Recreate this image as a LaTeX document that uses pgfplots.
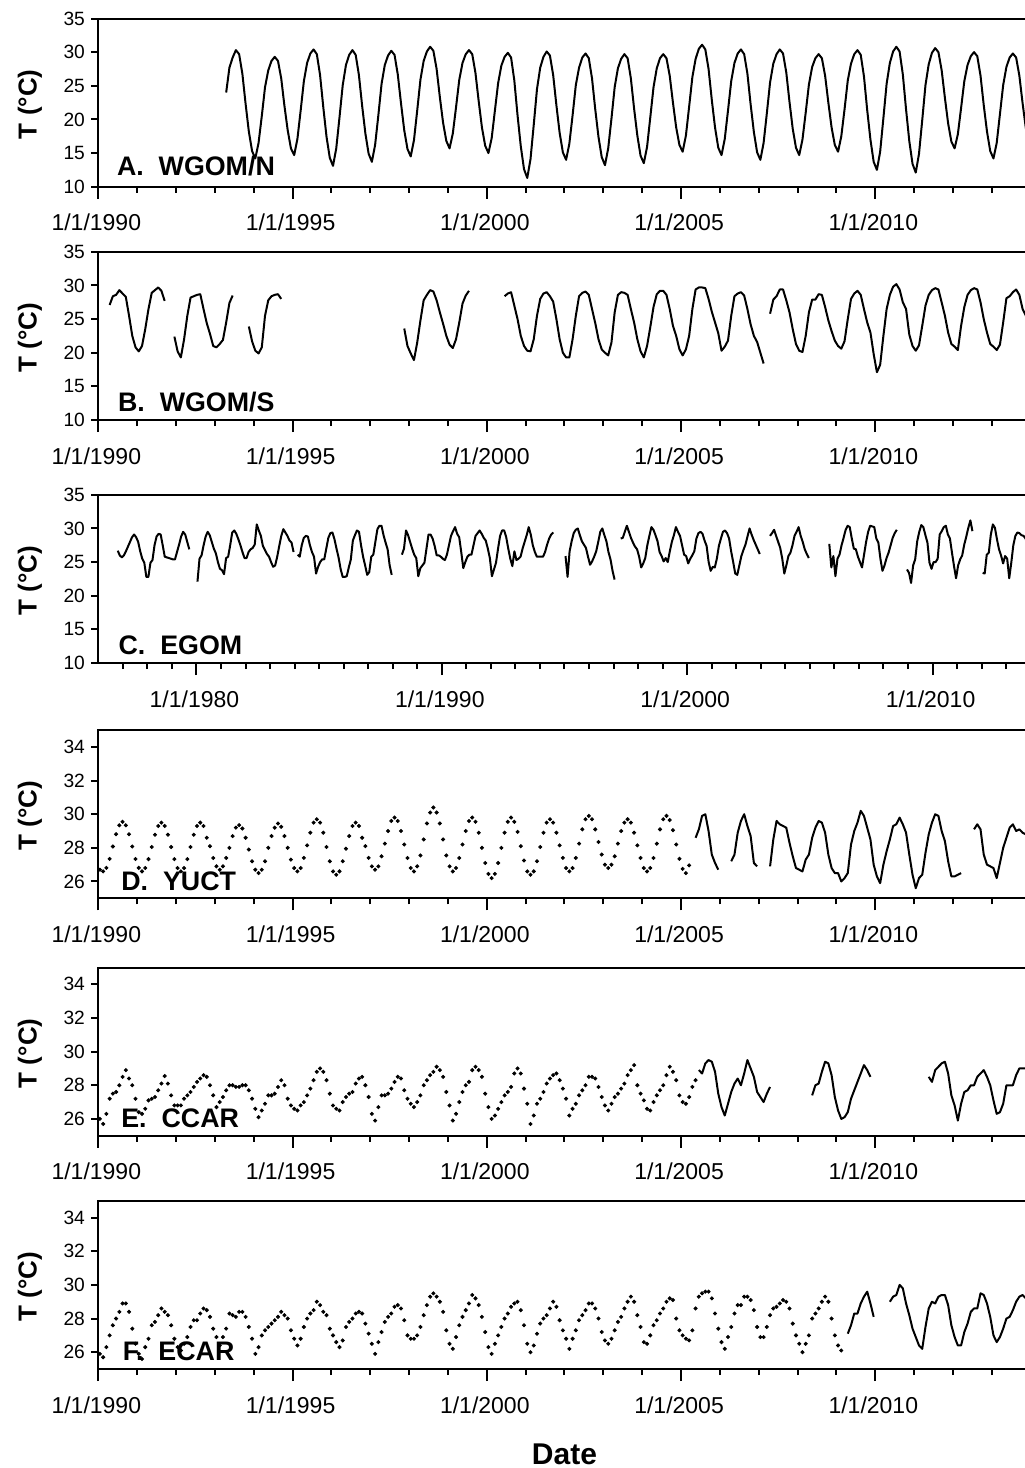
\documentclass[border=0pt]{standalone}
\usepackage{fontspec}
\setmainfont{Liberation Sans}
\usepackage{pgfplots}
\pgfplotsset{compat=1.18}
\tikzset{lab/.style={anchor=base west, inner sep=0pt, font=\bfseries\fontsize{13.4}{15}\selectfont}}
\pgfplotsset{
 panel/.style={
  scale only axis, width=466.2pt, height=84.1pt, anchor=south west,
  axis line style={line width=1pt},
  tick style={black, line width=1pt},
  tick align=outside,
  xtick pos=bottom, ytick pos=left,
  major tick length=6pt, minor tick length=3pt,
  ytick style={/pgfplots/major tick length=3.5pt},
  xticklabel style={font=\fontsize{11.5}{13}\selectfont, anchor=base, yshift=-16pt, xshift=-1pt},
  yticklabel style={font=\fontsize{9.6}{11}\selectfont, anchor=east, inner sep=0pt, xshift=-0.5pt},
  /pgf/number format/assume math mode=true,
  ylabel={T (°C)},
  ylabel style={font=\bfseries\fontsize{13}{15}\selectfont, at={(axis description cs:-0.0733,0.49)}, anchor=center},
  xmax=2014,
  unbounded coords=jump,
 },
 yr/.style={xmin=1990, xtick={1990,1995,2000,2005,2010},
   xticklabels={1/1/1990,1/1/1995,1/1/2000,1/1/2005,1/1/2010},
   minor xtick={1991,1992,...,2013}},
 big/.style={ymin=10, ymax=35, ytick={10,15,...,35}},
 small/.style={ymin=25, ymax=35, ytick={26,28,...,34}},
 ser/.style={black, line width=1pt, line join=round, no marks},
 dots/.style={black, only marks, mark=*, mark size=0.8pt},
}
\begin{document}
\begin{tikzpicture}
%% A
\begin{axis}[panel, yr, big, at={(49.15pt,-93.35pt)}]
\addplot[ser] table[row sep=\\, header=false, y index=0, x expr={1993+(\lineno+0.5)/12}] {
nan\\ nan\\ nan\\ 24.0\\ 27.7\\ 29.2\\ 30.3\\ 29.7\\ 26.8\\ 22.3\\ 18.2\\ 15.3\\
14.2\\ 16.5\\ 20.5\\ 24.8\\ 27.3\\ 28.7\\ 29.3\\ 28.7\\ 26.1\\ 22.0\\ 18.4\\ 15.7\\
14.7\\ 17.1\\ 21.3\\ 25.7\\ 28.4\\ 29.8\\ 30.4\\ 29.7\\ 26.6\\ 21.8\\ 17.4\\ 14.3\\
13.1\\ 15.7\\ 20.3\\ 25.1\\ 28.1\\ 29.6\\ 30.3\\ 29.6\\ 26.6\\ 22.0\\ 17.9\\ 14.9\\
13.7\\ 16.2\\ 20.6\\ 25.3\\ 28.1\\ 29.5\\ 30.2\\ 29.6\\ 26.7\\ 22.4\\ 18.4\\ 15.6\\
14.5\\ 16.9\\ 21.3\\ 25.9\\ 28.7\\ 30.1\\ 30.8\\ 30.2\\ 27.5\\ 23.3\\ 19.5\\ 16.8\\
15.7\\ 17.9\\ 21.8\\ 25.9\\ 28.4\\ 29.7\\ 30.3\\ 29.7\\ 26.9\\ 22.7\\ 18.8\\ 16.1\\
15.0\\ 17.2\\ 21.3\\ 25.4\\ 28.0\\ 29.3\\ 29.9\\ 29.2\\ 25.8\\ 20.6\\ 16.0\\ 12.6\\
11.3\\ 14.1\\ 19.2\\ 24.5\\ 27.7\\ 29.3\\ 30.1\\ 29.5\\ 26.6\\ 22.1\\ 18.0\\ 15.1\\
14.0\\ 16.4\\ 20.6\\ 25.1\\ 27.7\\ 29.2\\ 29.8\\ 29.1\\ 26.1\\ 21.5\\ 17.4\\ 14.4\\
13.2\\ 15.7\\ 20.1\\ 24.8\\ 27.6\\ 29.0\\ 29.7\\ 29.1\\ 26.1\\ 21.6\\ 17.6\\ 14.6\\
13.5\\ 15.9\\ 20.3\\ 24.8\\ 27.6\\ 29.1\\ 29.7\\ 29.1\\ 26.5\\ 22.5\\ 18.8\\ 16.2\\
15.2\\ 17.6\\ 21.9\\ 26.3\\ 29.0\\ 30.5\\ 31.1\\ 30.4\\ 27.5\\ 22.9\\ 18.8\\ 15.8\\
14.7\\ 17.1\\ 21.3\\ 25.7\\ 28.4\\ 29.8\\ 30.4\\ 29.7\\ 26.8\\ 22.2\\ 18.1\\ 15.1\\
14.0\\ 16.5\\ 20.9\\ 25.5\\ 28.3\\ 29.7\\ 30.4\\ 29.8\\ 27.0\\ 22.6\\ 18.6\\ 15.8\\
14.7\\ 17.0\\ 21.0\\ 25.2\\ 27.8\\ 29.1\\ 29.7\\ 29.1\\ 26.5\\ 22.5\\ 18.8\\ 16.2\\
15.2\\ 17.5\\ 21.5\\ 25.8\\ 28.3\\ 29.7\\ 30.3\\ 29.6\\ 26.4\\ 21.4\\ 17.0\\ 13.7\\
12.5\\ 15.2\\ 20.2\\ 25.3\\ 28.4\\ 30.1\\ 30.8\\ 30.1\\ 26.7\\ 21.5\\ 16.8\\ 13.4\\
12.1\\ 14.9\\ 19.9\\ 25.1\\ 28.2\\ 29.9\\ 30.6\\ 30.0\\ 27.3\\ 23.2\\ 19.4\\ 16.7\\
15.7\\ 17.8\\ 21.7\\ 25.7\\ 28.1\\ 29.4\\ 30.0\\ 29.4\\ 26.5\\ 22.1\\ 18.2\\ 15.3\\
14.2\\ 16.5\\ 20.8\\ 25.1\\ 27.8\\ 29.2\\ 29.8\\ 29.2\\ 26.5\\ 22.4\\ 18.7\\ 16.0\\
};
\node[lab] at (rel axis cs:0.0197,0.0695) {A.~~WGOM/N};
\end{axis}
%% B
\begin{axis}[panel, yr, big, at={(49.15pt,-210pt)}]
\addplot[ser] table[row sep=\\, header=false, y index=0, x expr={1990+(\lineno+0.5)/12}] {
nan\\ nan\\ nan\\ 27.1\\ 28.4\\ 28.6\\ 29.3\\ 28.8\\ 28.3\\ 25.5\\ 22.5\\ 20.8\\
20.2\\ 21.0\\ 23.5\\ 26.5\\ 28.9\\ 29.3\\ 29.7\\ 29.2\\ 27.7\\ nan\\ nan\\ 22.4\\
20.2\\ 19.3\\ 22.0\\ 25.5\\ 28.2\\ 28.4\\ 28.6\\ 28.7\\ 26.5\\ 24.4\\ 22.8\\ 21.0\\
20.8\\ 21.3\\ 21.9\\ 24.5\\ 27.4\\ 28.5\\ nan\\ nan\\ nan\\ nan\\ 23.9\\ 21.7\\
20.3\\ 19.9\\ 20.8\\ 25.5\\ 27.8\\ 28.4\\ 28.6\\ 28.7\\ 28.0\\ nan\\ nan\\ nan\\
nan\\ nan\\ nan\\ nan\\ nan\\ nan\\ nan\\ nan\\ nan\\ nan\\ nan\\ nan\\
nan\\ nan\\ nan\\ nan\\ nan\\ nan\\ nan\\ nan\\ nan\\ nan\\ nan\\ nan\\
nan\\ nan\\ nan\\ nan\\ nan\\ nan\\ nan\\ nan\\ nan\\ nan\\ 23.6\\ 21.0\\
19.9\\ 18.9\\ 21.5\\ 24.8\\ 27.8\\ 28.6\\ 29.3\\ 29.1\\ 27.8\\ 26.0\\ 24.3\\ 22.5\\
21.2\\ 20.7\\ 22.0\\ 24.5\\ 27.3\\ 28.5\\ 29.2\\ nan\\ nan\\ nan\\ nan\\ nan\\
nan\\ nan\\ nan\\ nan\\ nan\\ 28.4\\ 28.8\\ 29.0\\ 27.0\\ 25.0\\ 22.5\\ 21.0\\
20.3\\ 20.2\\ 22.0\\ 25.5\\ 28.0\\ 28.8\\ 29.0\\ 28.4\\ 27.6\\ 25.0\\ 22.0\\ 20.0\\
19.3\\ 19.3\\ 22.0\\ 25.5\\ 28.4\\ 28.9\\ 29.1\\ 28.6\\ 26.5\\ 24.4\\ 22.0\\ 20.5\\
20.0\\ 19.6\\ 21.5\\ 26.0\\ 28.6\\ 29.0\\ 28.9\\ 28.6\\ 26.5\\ 24.5\\ 22.0\\ 20.2\\
19.3\\ 21.0\\ 23.8\\ 26.8\\ 28.7\\ 29.2\\ 29.2\\ 28.6\\ 26.5\\ 24.0\\ 22.5\\ 20.5\\
19.6\\ 20.5\\ 22.5\\ 26.5\\ 29.4\\ 29.7\\ 29.7\\ 29.6\\ 28.0\\ 26.1\\ 24.5\\ 22.9\\
20.3\\ 20.9\\ 21.8\\ 25.5\\ 28.4\\ 28.8\\ 29.0\\ 28.5\\ 26.5\\ 24.2\\ 22.5\\ 21.6\\
20.0\\ 18.4\\ nan\\ 25.8\\ 27.9\\ 28.4\\ 29.4\\ 29.4\\ 27.8\\ 26.0\\ 23.5\\ 21.3\\
20.3\\ 20.1\\ 22.5\\ 26.0\\ 27.9\\ 27.9\\ 28.7\\ 28.6\\ 26.8\\ 24.8\\ 23.2\\ 21.8\\
21.0\\ 20.6\\ 21.7\\ 25.0\\ 28.0\\ 28.8\\ 29.2\\ 28.6\\ 26.5\\ 24.5\\ 23.0\\ 19.8\\
17.1\\ 18.2\\ 22.5\\ 26.5\\ 28.6\\ 29.8\\ 30.2\\ 29.4\\ 27.5\\ 26.5\\ 22.7\\ 21.0\\
20.3\\ 21.1\\ 24.0\\ 27.0\\ 28.6\\ 29.3\\ 29.6\\ 29.4\\ 27.5\\ 25.5\\ 23.0\\ 21.3\\
20.9\\ 20.4\\ 24.0\\ 26.8\\ 28.6\\ 29.3\\ 29.6\\ 29.4\\ 27.5\\ 25.0\\ 23.0\\ 21.3\\
20.9\\ 20.4\\ 21.2\\ 24.5\\ 28.1\\ 28.4\\ 29.0\\ 29.4\\ 28.6\\ 26.5\\ 25.5\\ 24.0\\
};
\node[lab] at (rel axis cs:0.0208,0.049) {B.~~WGOM/S};
\end{axis}
%% C
\begin{axis}[panel, big, at={(49.15pt,-331.5pt)}, xmin=1976,
  xtick={1980,1990,2000,2010}, xticklabels={1/1/1980,1/1/1990,1/1/2000,1/1/2010},
  minor xtick={1977,1978,...,2013}]
\addplot[ser] table[row sep=\\, header=false, y index=0, x expr={1976+(\lineno+0.5)/12}] {
nan\\ nan\\ nan\\ nan\\ nan\\ nan\\ nan\\ nan\\ nan\\ 26.7\\ 26.0\\ 25.7\\
26.0\\ 26.6\\ 27.3\\ 28.0\\ 28.7\\ 29.1\\ 28.7\\ 28.0\\ 26.6\\ 25.5\\ 24.9\\ 22.8\\
22.8\\ 24.9\\ 25.3\\ 27.5\\ 28.8\\ 29.2\\ 29.1\\ 27.5\\ 25.8\\ 25.7\\ 25.6\\ 25.5\\
25.4\\ 25.4\\ 26.5\\ 27.6\\ 28.8\\ 29.5\\ 29.1\\ 28.0\\ 26.9\\ nan\\ nan\\ nan\\
22.1\\ 25.5\\ 26.0\\ 27.5\\ 28.8\\ 29.5\\ 29.0\\ 28.0\\ 27.0\\ 26.3\\ 25.0\\ 24.0\\
23.8\\ 23.2\\ 25.6\\ 25.8\\ 27.5\\ 29.4\\ 29.7\\ 29.2\\ 28.4\\ 27.5\\ 26.5\\ 25.6\\
25.6\\ 26.5\\ 26.9\\ 27.1\\ 27.6\\ 30.6\\ 29.7\\ 28.9\\ 27.4\\ 26.8\\ 26.2\\ 25.8\\
25.0\\ 24.3\\ 24.5\\ 25.8\\ 27.4\\ 28.9\\ 29.9\\ 29.4\\ 28.9\\ 28.2\\ 27.9\\ 26.5\\
nan\\ 26.1\\ 25.8\\ 27.5\\ 28.6\\ 28.9\\ 28.8\\ 27.5\\ 26.5\\ 25.8\\ 23.3\\ 24.3\\
25.0\\ 25.4\\ 25.4\\ 27.0\\ 28.6\\ 29.3\\ 29.4\\ 28.4\\ 27.0\\ 25.7\\ 24.0\\ 22.8\\
22.8\\ 22.9\\ 24.2\\ 25.4\\ 28.2\\ 29.0\\ 29.7\\ 29.5\\ 27.5\\ 25.8\\ 24.5\\ 23.1\\
23.5\\ 25.8\\ 26.1\\ 28.0\\ 29.9\\ 30.4\\ 30.4\\ 29.0\\ 27.9\\ 26.9\\ 24.5\\ 23.1\\
nan\\ nan\\ nan\\ nan\\ 26.1\\ 27.0\\ 29.7\\ 29.0\\ 28.0\\ 27.0\\ 26.1\\ 25.6\\
22.9\\ 24.1\\ 24.5\\ 24.9\\ 27.0\\ 29.1\\ 29.1\\ 28.5\\ 27.4\\ 26.0\\ 26.0\\ 25.8\\
25.5\\ 25.3\\ 26.1\\ 27.5\\ 28.9\\ 29.6\\ 30.2\\ 29.2\\ 28.7\\ 26.5\\ 24.1\\ 25.0\\
25.8\\ 26.1\\ 26.1\\ 27.5\\ 28.9\\ 29.3\\ 29.7\\ 29.2\\ 28.6\\ 28.2\\ 27.0\\ 25.6\\
22.9\\ 23.9\\ 24.9\\ 27.0\\ 28.9\\ 29.7\\ 29.7\\ 28.7\\ 27.0\\ 25.5\\ 24.4\\ 26.6\\
25.3\\ 25.5\\ 25.8\\ 27.0\\ 28.0\\ 29.0\\ 30.2\\ 29.1\\ 27.5\\ 26.5\\ 25.8\\ 25.8\\
25.8\\ 25.8\\ 26.5\\ 27.6\\ 28.5\\ 29.1\\ 29.4\\ nan\\ nan\\ nan\\ nan\\ nan\\
25.9\\ 22.8\\ 26.6\\ 28.1\\ 29.3\\ 29.8\\ 30.0\\ 29.0\\ 28.1\\ 27.6\\ 27.1\\ 25.8\\
24.6\\ 25.1\\ 25.8\\ 26.6\\ 28.0\\ 29.5\\ 30.0\\ 29.0\\ 28.1\\ 26.5\\ 25.4\\ 23.7\\
22.4\\ nan\\ nan\\ 28.5\\ 28.6\\ 29.5\\ 30.4\\ 29.5\\ 28.6\\ 27.9\\ 27.3\\ 26.9\\
25.8\\ 24.2\\ 24.8\\ 25.6\\ 27.5\\ 28.9\\ 30.2\\ 29.8\\ 29.0\\ 28.1\\ 26.5\\ 25.9\\
25.1\\ 25.6\\ 25.0\\ 26.6\\ 28.0\\ 29.0\\ 30.2\\ 29.5\\ 28.9\\ 27.5\\ 26.1\\ 25.9\\
24.8\\ 25.5\\ 26.0\\ 26.6\\ 28.5\\ 29.3\\ 29.5\\ 29.2\\ 28.2\\ 27.4\\ 25.0\\ 23.7\\
24.3\\ 24.2\\ 25.5\\ 27.4\\ 28.5\\ 29.5\\ 29.7\\ 29.3\\ 28.5\\ 26.6\\ 25.0\\ 23.3\\
23.1\\ 24.5\\ 25.9\\ 26.8\\ 27.6\\ 28.8\\ 30.0\\ 29.1\\ 28.3\\ 27.6\\ 26.9\\ 26.2\\
nan\\ nan\\ nan\\ nan\\ 28.9\\ 29.3\\ 29.8\\ 28.9\\ 28.0\\ 27.1\\ 25.5\\ 23.3\\
24.5\\ 25.9\\ 26.4\\ 27.5\\ 28.9\\ 29.5\\ 30.2\\ 28.9\\ 28.0\\ 26.9\\ 26.2\\ 25.6\\
nan\\ nan\\ nan\\ nan\\ nan\\ nan\\ nan\\ nan\\ nan\\ 27.7\\ 24.2\\ 25.9\\
22.9\\ 25.5\\ 26.1\\ 27.5\\ 28.6\\ 29.8\\ 30.4\\ 30.2\\ 28.5\\ 27.0\\ 26.9\\ 25.8\\
25.0\\ 24.2\\ 26.1\\ 28.0\\ 29.5\\ 30.4\\ 30.3\\ 30.2\\ 28.5\\ 27.9\\ 25.5\\ 23.7\\
24.5\\ 25.6\\ 26.4\\ 27.5\\ 28.6\\ 29.3\\ 29.8\\ nan\\ nan\\ nan\\ nan\\ 23.9\\
23.4\\ 21.9\\ 24.5\\ 25.4\\ 28.1\\ 29.5\\ 30.5\\ 30.2\\ 29.0\\ 27.9\\ 24.9\\ 24.0\\
25.0\\ 25.0\\ 25.5\\ 29.1\\ 29.6\\ 30.2\\ 30.4\\ 29.1\\ 28.5\\ 26.4\\ 24.4\\ 22.6\\
24.5\\ 25.4\\ 26.0\\ 27.6\\ 28.8\\ 30.1\\ 31.2\\ 29.6\\ nan\\ nan\\ nan\\ nan\\
23.4\\ 23.3\\ 26.1\\ 26.4\\ 29.1\\ 30.6\\ 30.1\\ 28.4\\ 26.9\\ 26.0\\ 24.8\\ 25.9\\
25.5\\ 22.6\\ 24.9\\ 27.5\\ 28.9\\ 29.4\\ 29.3\\ 29.0\\ 28.9\\ 28.5\\ 27.5\\ 27.0\\
};
\node[lab] at (rel axis cs:0.0214,0.049) {C.~~EGOM};
\end{axis}
%% D
\begin{axis}[panel, yr, small, at={(49.15pt,-449.15pt)}]
\addplot[dots] table[row sep=\\, header=false, y index=0, x expr={1990+(\lineno+0.5)/12}] {
26.7\\ 26.6\\ 26.81\\ 27.34\\ 28.08\\ 28.81\\ 29.34\\ 29.55\\ 29.34\\ 28.81\\ 28.08\\ 27.34\\
26.81\\ 26.6\\ 26.8\\ 27.33\\ 28.05\\ 28.78\\ 29.3\\ 29.5\\ 29.3\\ 28.78\\ 28.05\\ 27.33\\
26.8\\ 26.6\\ 26.8\\ 27.33\\ 28.05\\ 28.78\\ 29.3\\ 29.5\\ 29.3\\ 28.6\\ 28.1\\ 27.4\\
26.9\\ 26.7\\ 26.9\\ 27.4\\ 28.0\\ 28.7\\ 29.2\\ 29.35\\ 29.15\\ 28.6\\ 27.9\\ 27.2\\
26.7\\ 26.5\\ 26.7\\ 27.2\\ 28.0\\ 28.7\\ 29.2\\ 29.45\\ 29.25\\ 28.7\\ 28.0\\ 27.3\\
26.8\\ 26.6\\ 26.8\\ 27.4\\ 28.15\\ 28.9\\ 29.5\\ 29.7\\ 29.5\\ 28.9\\ 28.05\\ 27.2\\
26.6\\ 26.4\\ 26.6\\ 27.2\\ 27.95\\ 28.7\\ 29.3\\ 29.5\\ 29.3\\ 28.6\\ 28.1\\ 27.4\\
26.9\\ 26.7\\ 26.9\\ 27.5\\ 28.25\\ 29.0\\ 29.6\\ 29.8\\ 29.6\\ 29.0\\ 28.2\\ 27.4\\
26.8\\ 26.6\\ 26.9\\ 27.55\\ 28.5\\ 29.45\\ 30.1\\ 30.4\\ 30.1\\ 29.45\\ 28.5\\ 27.55\\
26.9\\ 26.6\\ 26.8\\ 27.4\\ 28.2\\ 29.0\\ 29.6\\ 29.8\\ 29.55\\ 28.9\\ 28.0\\ 27.1\\
26.45\\ 26.2\\ 26.45\\ 27.1\\ 28.0\\ 28.9\\ 29.55\\ 29.8\\ 29.55\\ 28.95\\ 28.1\\ 27.25\\
26.6\\ 26.4\\ 26.6\\ 27.2\\ 28.05\\ 28.9\\ 29.5\\ 29.7\\ 29.5\\ 28.9\\ 28.15\\ 27.4\\
26.8\\ 26.6\\ 26.8\\ 27.4\\ 28.25\\ 29.1\\ 29.7\\ 29.9\\ 29.7\\ 29.1\\ 28.35\\ 27.6\\
27.0\\ 26.8\\ 27.0\\ 27.5\\ 28.25\\ 29.0\\ 29.5\\ 29.7\\ 29.5\\ 28.9\\ 28.15\\ 27.4\\
26.8\\ 26.6\\ 26.8\\ 27.4\\ 28.25\\ 29.1\\ 29.7\\ 29.9\\ 29.65\\ 29.05\\ 28.2\\ 27.35\\
26.75\\ 26.5\\ 26.96\\
};
\addplot[ser] table[row sep=\\, header=false, y index=0, x expr={2005+(\lineno+0.5)/12}] {
nan\\ nan\\ nan\\ nan\\ 28.6\\ 29.1\\ 29.9\\ 30.0\\ 29.0\\ 27.6\\ 27.1\\ 26.7\\
nan\\ nan\\ nan\\ 27.2\\ 27.6\\ 28.9\\ 29.6\\ 30.0\\ 29.3\\ 28.7\\ 27.1\\ 26.9\\
nan\\ nan\\ nan\\ 26.9\\ 28.5\\ 29.6\\ 29.4\\ 29.3\\ 29.2\\ 28.3\\ 27.5\\ 26.8\\
26.7\\ 26.6\\ 27.3\\ 27.6\\ 28.6\\ 29.2\\ 29.6\\ 29.5\\ 28.9\\ 27.6\\ 26.8\\ 26.5\\
26.5\\ 26.0\\ 26.2\\ 26.5\\ 28.2\\ 29.0\\ 29.5\\ 30.2\\ 29.9\\ 29.2\\ 28.5\\ 27.0\\
26.3\\ 25.9\\ 27.0\\ 27.8\\ 28.5\\ 29.3\\ 29.4\\ 29.8\\ 29.4\\ 28.9\\ 27.6\\ 26.4\\
25.6\\ 26.2\\ 26.4\\ 27.7\\ 28.8\\ 29.5\\ 30.0\\ 29.9\\ 29.0\\ 28.4\\ 27.2\\ 26.3\\
26.3\\ 26.4\\ 26.5\\ nan\\ nan\\ nan\\ 29.1\\ 29.4\\ 29.1\\ 27.6\\ 27.0\\ 26.9\\
26.8\\ 26.2\\ 27.1\\ 28.0\\ 28.6\\ 29.2\\ 29.4\\ 29.0\\ 29.1\\ 28.9\\ 28.8\\ 28.5\\
};
\node[lab] at (rel axis cs:0.0243,0.045) {D.~~YUCT};
\end{axis}
%% E
\begin{axis}[panel, yr, small, at={(49.15pt,-567.85pt)}]
\addplot[dots] table[row sep=\\, header=false, y index=0, x expr={1990+(\lineno+0.5)/12}] {
26.0\\ 25.7\\ 26.3\\ 27.2\\ 27.5\\ 27.6\\ 28.0\\ 28.5\\ 28.9\\ 28.4\\ 28.0\\ 27.2\\
26.4\\ 26.3\\ 26.6\\ 27.1\\ 27.2\\ 27.3\\ 27.7\\ 28.1\\ 28.55\\ 28.1\\ 27.4\\ 26.8\\
26.8\\ 26.8\\ 27.2\\ 27.4\\ 27.6\\ 27.9\\ 28.2\\ 28.4\\ 28.6\\ 28.5\\ 28.0\\ 27.4\\
26.7\\ 27.0\\ 27.3\\ 27.7\\ 28.0\\ 28.0\\ 27.9\\ 27.9\\ 28.0\\ 28.0\\ 27.7\\ 27.2\\
26.6\\ 26.1\\ 26.5\\ 26.9\\ 27.4\\ 27.4\\ 27.5\\ 27.9\\ 28.3\\ 28.0\\ 27.2\\ 26.8\\
26.6\\ 26.5\\ 26.8\\ 27.0\\ 27.4\\ 27.8\\ 28.3\\ 28.8\\ 29.0\\ 28.8\\ 28.3\\ 27.5\\
26.8\\ 26.6\\ 26.5\\ 27.0\\ 27.3\\ 27.5\\ 27.6\\ 28.1\\ 28.4\\ 28.5\\ 28.0\\ 27.3\\
26.3\\ 25.9\\ 26.7\\ 27.4\\ 27.4\\ 27.5\\ 27.8\\ 28.2\\ 28.5\\ 28.4\\ 27.7\\ 27.2\\
26.9\\ 26.7\\ 27.0\\ 27.4\\ 28.0\\ 28.3\\ 28.6\\ 28.8\\ 29.1\\ 28.9\\ 28.5\\ 27.6\\
26.8\\ 25.9\\ 26.3\\ 27.0\\ 27.6\\ 28.0\\ 28.2\\ 28.9\\ 29.1\\ 28.9\\ 28.5\\ 27.5\\
26.7\\ 26.0\\ 26.2\\ 26.6\\ 27.0\\ 27.4\\ 27.6\\ 27.9\\ 28.7\\ 29.0\\ 28.7\\ 27.8\\
26.9\\ 25.7\\ 26.2\\ 26.9\\ 27.2\\ 27.6\\ 28.1\\ 28.4\\ 28.6\\ 28.7\\ 28.3\\ 27.8\\
27.2\\ 26.2\\ 26.6\\ 26.9\\ 27.4\\ 27.7\\ 28.0\\ 28.5\\ 28.5\\ 28.4\\ 27.9\\ 27.3\\
26.8\\ 26.5\\ 26.9\\ 27.3\\ 27.5\\ 27.8\\ 28.1\\ 28.6\\ 28.9\\ 29.2\\ 28.0\\ 27.5\\
27.1\\ 26.6\\ 26.5\\ 27.0\\ 27.4\\ 27.7\\ 28.0\\ 28.6\\ 29.1\\ 28.8\\ 28.3\\ 27.4\\
27.0\\ 26.9\\ 27.3\\ 27.9\\ 28.3\\
};
\addplot[ser] table[row sep=\\, header=false, y index=0, x expr={2005+(\lineno+0.5)/12}] {
nan\\ nan\\ nan\\ nan\\ nan\\ 28.9\\ 28.7\\ 29.3\\ 29.5\\ 29.4\\ 28.8\\ 27.5\\
26.7\\ 26.2\\ 26.9\\ 27.6\\ 28.1\\ 28.4\\ 28.0\\ 28.7\\ 29.5\\ 29.0\\ 28.5\\ 27.6\\
27.3\\ 27.0\\ 27.5\\ 27.9\\ nan\\ nan\\ nan\\ nan\\ nan\\ nan\\ nan\\ nan\\
nan\\ nan\\ nan\\ nan\\ 27.4\\ 28.0\\ 28.1\\ 28.8\\ 29.4\\ 29.3\\ 28.6\\ 27.3\\
26.5\\ 26.0\\ 26.1\\ 26.4\\ 27.2\\ 27.7\\ 28.2\\ 28.7\\ 29.2\\ 28.9\\ 28.5\\ nan\\
nan\\ nan\\ nan\\ nan\\ nan\\ nan\\ nan\\ nan\\ nan\\ nan\\ nan\\ nan\\
nan\\ nan\\ nan\\ nan\\ 28.5\\ 28.2\\ 28.9\\ 29.1\\ 29.3\\ 29.4\\ 28.7\\ 27.4\\
26.8\\ 25.9\\ 26.9\\ 27.6\\ 27.7\\ 28.0\\ 28.0\\ 28.5\\ 28.7\\ 28.9\\ 28.5\\ 28.0\\
27.1\\ 26.3\\ 26.4\\ 26.9\\ 28.0\\ 28.0\\ 28.0\\ 28.6\\ 29.0\\ 29.0\\ 29.0\\ 28.9\\
};
\node[lab] at (rel axis cs:0.0243,0.0475) {E.~~CCAR};
\end{axis}
%% F
\begin{axis}[panel, yr, small, at={(49.15pt,-684.5pt)}, xlabel={Date},
  xlabel style={font=\bfseries\fontsize{15}{17}\selectfont, at={(axis description cs:0.5,0)}, anchor=base, yshift=-47.5pt}]
\addplot[dots] table[row sep=\\, header=false, y index=0, x expr={1990+(\lineno+0.5)/12}] {
25.9\\ 25.7\\ 26.3\\ 27.0\\ 27.6\\ 28.0\\ 28.4\\ 28.9\\ 28.9\\ 28.4\\ 27.4\\ 26.5\\
25.9\\ 25.6\\ 26.3\\ 26.8\\ 27.6\\ 27.8\\ 28.2\\ 28.6\\ 28.4\\ 28.2\\ 27.6\\ 26.8\\
26.3\\ 26.1\\ 26.5\\ 26.9\\ 27.5\\ 27.9\\ 27.9\\ 28.3\\ 28.6\\ 28.5\\ 28.1\\ 27.4\\
26.9\\ 26.4\\ 26.9\\ 27.4\\ 28.3\\ 28.2\\ 28.1\\ 28.4\\ 28.4\\ 28.1\\ 27.5\\ 26.8\\
25.9\\ 26.3\\ 27.0\\ 27.3\\ 27.5\\ 27.7\\ 27.9\\ 28.1\\ 28.4\\ 28.2\\ 28.0\\ 27.3\\
26.8\\ 26.4\\ 26.8\\ 27.5\\ 28.0\\ 28.3\\ 28.5\\ 29.0\\ 28.8\\ 28.4\\ 28.2\\ 27.4\\
27.0\\ 26.6\\ 26.3\\ 26.7\\ 27.5\\ 27.8\\ 28.0\\ 28.3\\ 28.4\\ 28.3\\ 27.7\\ 27.1\\
26.5\\ 25.9\\ 26.6\\ 27.2\\ 27.8\\ 28.1\\ 28.3\\ 28.7\\ 28.8\\ 28.6\\ 27.9\\ 27.0\\
26.8\\ 26.8\\ 27.0\\ 27.5\\ 28.2\\ 28.8\\ 29.3\\ 29.5\\ 29.3\\ 29.0\\ 28.4\\ 27.3\\
26.5\\ 26.2\\ 26.9\\ 27.6\\ 28.1\\ 28.5\\ 28.9\\ 29.4\\ 29.2\\ 28.8\\ 28.1\\ 27.2\\
26.3\\ 25.9\\ 26.5\\ 27.0\\ 27.5\\ 28.0\\ 28.3\\ 28.7\\ 28.9\\ 29.0\\ 28.5\\ 27.6\\
26.5\\ 26.0\\ 26.4\\ 27.1\\ 27.7\\ 28.0\\ 28.2\\ 28.6\\ 29.0\\ 28.7\\ 27.9\\ 27.3\\
26.8\\ 26.2\\ 26.8\\ 27.3\\ 27.9\\ 28.2\\ 28.5\\ 28.9\\ 28.9\\ 28.6\\ 28.0\\ 27.2\\
26.7\\ 26.5\\ 26.8\\ 27.3\\ 27.8\\ 28.1\\ 28.6\\ 29.0\\ 29.3\\ 29.0\\ 28.2\\ 27.5\\
26.6\\ 26.5\\ 27.0\\ 27.6\\ 27.9\\ 28.3\\ 28.6\\ 29.0\\ 29.2\\ 29.1\\ 28.0\\ 27.3\\
27.0\\ 26.8\\ 26.7\\ 27.3\\ 28.6\\ 29.3\\ 29.5\\ 29.6\\ 29.6\\ 29.2\\ 28.3\\ 27.4\\
26.6\\ 26.2\\ 26.9\\ 27.5\\ 28.3\\ 28.8\\ 28.8\\ 29.3\\ 29.3\\ 29.1\\ 28.5\\ 27.5\\
26.9\\ 26.9\\ 27.5\\ 28.2\\ 28.6\\ 28.7\\ 28.9\\ 29.1\\ 29.0\\ 28.6\\ 27.7\\ 27.0\\
26.5\\ 26.0\\ 26.5\\ 27.0\\ 28.0\\ 28.3\\ 28.6\\ 29.0\\ 29.3\\ 29.0\\ 28.0\\ 27.0\\
26.4\\ 26.1\\
};
\addplot[ser] table[row sep=\\, header=false, y index=0, x expr={2009+(\lineno+0.5)/12}] {
nan\\ nan\\ nan\\ 27.1\\ 27.6\\ 28.3\\ 28.3\\ 28.9\\ 29.3\\ 29.6\\ 28.9\\ 28.1\\
nan\\ nan\\ nan\\ nan\\ 29.0\\ 29.3\\ 29.4\\ 30.0\\ 29.8\\ 28.9\\ 28.2\\ 27.4\\
26.9\\ 26.4\\ 26.2\\ 27.5\\ 28.6\\ 29.0\\ 28.9\\ 29.3\\ 29.4\\ 29.4\\ 28.8\\ 27.6\\
26.9\\ 26.4\\ 26.4\\ 27.2\\ 27.7\\ 28.4\\ 28.6\\ 28.6\\ 29.5\\ 29.4\\ 28.9\\ 28.1\\
27.0\\ 26.6\\ 26.9\\ 27.4\\ 28.0\\ 28.1\\ 28.5\\ 29.0\\ 29.3\\ 29.4\\ 29.2\\ 29.0\\
};
\node[lab] at (rel axis cs:0.0258,0.049) {F.~~ECAR};
\end{axis}
\pgfresetboundingbox
\path[use as bounding box] (0pt,0pt) rectangle (512pt,-734pt);
\end{tikzpicture}
\end{document}
